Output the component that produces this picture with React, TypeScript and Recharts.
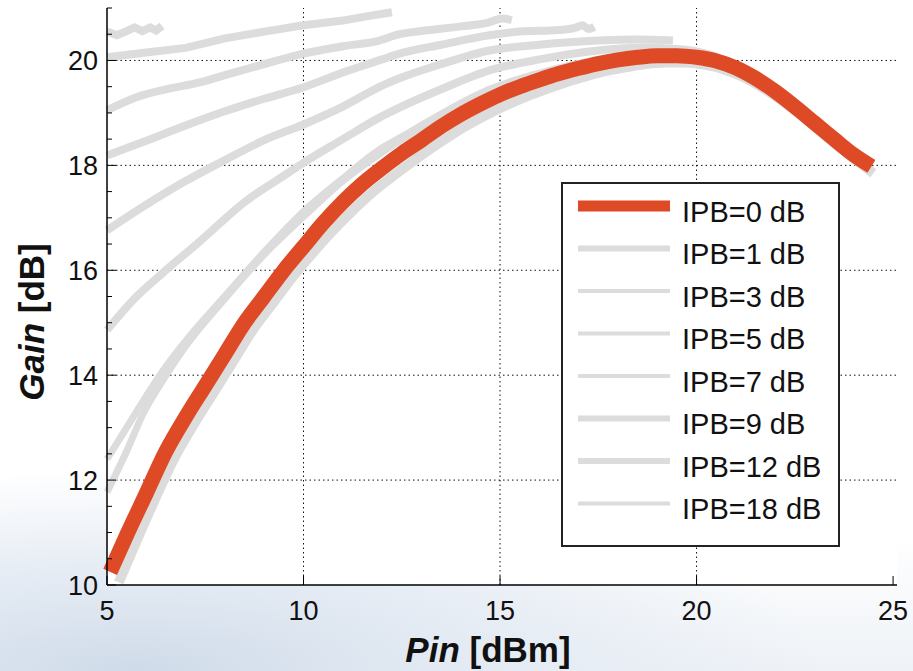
import { CartesianGrid, Legend, Line, LineChart, ReferenceLine, XAxis, YAxis } from "recharts";

// [Pin dBm, Gain dB]
const ipb0 = [
  [5.08, 10.25], [5.5, 10.95], [6, 11.75], [6.5, 12.55], [7, 13.2], [7.5, 13.8],
  [8, 14.4], [8.5, 15.0], [9, 15.5], [9.5, 16.0], [10, 16.45], [10.5, 16.9],
  [11, 17.3], [11.5, 17.65], [12, 17.95], [12.5, 18.23], [13, 18.48], [13.5, 18.74],
  [14, 18.97], [14.5, 19.17], [15, 19.35], [15.5, 19.5], [16, 19.63], [16.5, 19.75],
  [17, 19.85], [17.5, 19.94], [18, 20.01], [18.5, 20.06], [19, 20.09], [19.5, 20.09],
  [20, 20.06], [20.5, 19.99], [21, 19.86], [21.5, 19.66], [22, 19.41], [22.5, 19.12],
  [23, 18.81], [23.5, 18.5], [24, 18.2], [24.45, 17.98],
];
const ipb1 = [
  [5.3, 10.05], [5.7, 10.75], [6.2, 11.6], [6.7, 12.4], [7.2, 13.05], [7.7, 13.65],
  [8.2, 14.25], [8.7, 14.85], [9.2, 15.35], [9.7, 15.85], [10.2, 16.3], [10.7, 16.72],
  [11.2, 17.1], [11.7, 17.45], [12.2, 17.75], [12.7, 18.03], [13.2, 18.3], [13.7, 18.55],
  [14.2, 18.78], [14.7, 18.98], [15.2, 19.16], [15.7, 19.32], [16.2, 19.46], [16.7, 19.59],
  [17.2, 19.7], [17.7, 19.8], [18.2, 19.87], [18.7, 19.93], [19.2, 19.96], [19.7, 19.96],
  [20.2, 19.92], [20.7, 19.83], [21.2, 19.68], [21.7, 19.47], [22.2, 19.22], [22.7, 18.93],
  [23.2, 18.62], [23.7, 18.31], [24.2, 18.02], [24.5, 17.85],
];
const ipb3 = [
  [5, 11.77], [5.5, 12.55], [5.91, 13.25], [6.42, 13.9], [7, 14.55], [8.05, 15.5],
  [9, 16.3], [10, 17.02], [11, 17.7], [12, 18.25], [13, 18.72], [14, 19.12],
  [15, 19.45], [16, 19.7], [17, 19.9], [18, 20.04], [19, 20.12],
];
const ipb5 = [
  [5, 12.4], [5.5, 13.0], [6, 13.6], [6.42, 14.08], [7, 14.65], [8.05, 15.55],
  [9, 16.35], [10, 17.12], [11, 17.75], [11.93, 18.3], [12.44, 18.52], [13.5, 18.98],
  [14.73, 19.45], [16, 19.76], [17.5, 20.02], [18.5, 20.12], [19.2, 20.16],
];
const ipb7 = [
  [5, 14.86], [5.66, 15.43], [6.42, 15.95], [7.36, 16.55], [8.5, 17.3], [9.64, 17.87],
  [10, 18.05], [11, 18.5], [11.93, 18.91], [12.44, 19.1], [13.5, 19.45], [14.73, 19.81],
  [16, 20.02], [17.5, 20.19], [18.5, 20.24], [19.5, 20.22], [20.3, 20.12], [20.8, 19.98],
];
const ipb9 = [
  [5, 16.76], [6, 17.25], [7, 17.7], [8, 18.1], [9, 18.48], [10, 18.78],
  [11, 19.12], [12, 19.52], [12.44, 19.66], [13.5, 19.93], [14.73, 20.19], [16, 20.3],
  [17.5, 20.38], [18.5, 20.4], [19.4, 20.38],
];
const ipb12 = [
  [5, 18.19], [6, 18.47], [7, 18.76], [8, 19.03], [9, 19.27], [10, 19.49],
  [11, 19.77], [12, 20.02], [12.44, 20.13], [13.5, 20.3], [14.73, 20.48], [15.5, 20.55],
  [16.5, 20.58], [16.9, 20.62], [17.1, 20.67], [17.25, 20.6], [17.4, 20.64],
];
const ipb18 = [
  [5, 19.05], [5.75, 19.3], [6.5, 19.45], [7.36, 19.58], [8, 19.72], [9, 19.93],
  [10, 20.13], [11, 20.27], [11.93, 20.38], [12.44, 20.5], [13, 20.56], [14, 20.65],
  [14.7, 20.72], [15.05, 20.8], [15.3, 20.77],
];
// two short traces at the top that have no legend entry
const topTrace = [
  [5, 20.06], [6, 20.15], [7, 20.24], [7.5, 20.33], [8, 20.42], [9, 20.55],
  [10, 20.67], [11, 20.76], [11.6, 20.84], [12.25, 20.92],
];
const topSquiggle = [
  [5, 20.55], [5.25, 20.48], [5.5, 20.56], [5.7, 20.63], [5.9, 20.56],
  [6.1, 20.63], [6.25, 20.57], [6.4, 20.66],
];

const xTicks = [5, 10, 15, 20, 25];
const xGridTicks = [10, 15, 20];
const yTicks = [10, 12, 14, 16, 18, 20];
const yGridTicks = [12, 14, 16, 18, 20];
const yAllTicks = [
  10, 10.5, 11, 11.5, 12, 12.5, 13, 13.5, 14, 14.5, 15, 15.5,
  16, 16.5, 17, 17.5, 18, 18.5, 19, 19.5, 20, 20.5, 21,
];

const RED = "#de4a26";
const GREY = "#dcdcdc";
const FONT = '"Liberation Sans", Arial, Helvetica, sans-serif';

const series = [
  { name: "IPB=0 dB", rows: ipb0, color: RED, width: 15, sample: 11 },
  { name: "IPB=1 dB", rows: ipb1, color: GREY, width: 10, sample: 6 },
  { name: "IPB=3 dB", rows: ipb3, color: GREY, width: 7, sample: 4 },
  { name: "IPB=5 dB", rows: ipb5, color: GREY, width: 7, sample: 4 },
  { name: "IPB=7 dB", rows: ipb7, color: GREY, width: 8, sample: 4 },
  { name: "IPB=9 dB", rows: ipb9, color: GREY, width: 8, sample: 6 },
  { name: "IPB=12 dB", rows: ipb12, color: GREY, width: 8, sample: 6 },
  { name: "IPB=18 dB", rows: ipb18, color: GREY, width: 8, sample: 4 },
];
const extras = [
  { id: "top-a", rows: topTrace },
  { id: "top-b", rows: topSquiggle },
];

const toPoints = (rows: number[][]) => rows.map(([pin, gain]) => ({ pin, gain }));

function LeftTick({ x, y, payload }: any) {
  const major = yTicks.includes(payload.value);
  return (
    <g>
      <line x1={x} x2={x + (major ? 9 : 5)} y1={y} y2={y} stroke="#000" />
      {major && (
        <text x={x - 9} y={y + 9.5} textAnchor="end" fontSize={27} fontFamily={FONT} fill="#111">
          {payload.value}
        </text>
      )}
    </g>
  );
}

function RightTick({ x, y, payload }: any) {
  const major = yTicks.includes(payload.value);
  return <line x1={x} x2={x - (major ? 9 : 5)} y1={y} y2={y} stroke="#000" />;
}

function BottomTick({ x, y, payload }: any) {
  return (
    <g>
      <line x1={x} x2={x} y1={y} y2={y - 9} stroke="#000" />
      <text x={x} y={y + 35} textAnchor="middle" fontSize={27} fontFamily={FONT} fill="#111">
        {payload.value}
      </text>
    </g>
  );
}

function TopTick({ x, y }: any) {
  return <line x1={x} x2={x} y1={y} y2={y + 9} stroke="#000" />;
}

function LegendBox() {
  return (
    <svg width={279} height={365} style={{ display: "block" }}>
      <rect x={1} y={1} width={277} height={363} fill="#fff" stroke="#222" strokeWidth={2} />
      {series.map((s, i) => (
        <g key={s.name}>
          <line x1={17} x2={109} y1={24 + i * 42.5} y2={24 + i * 42.5} stroke={s.color} strokeWidth={s.sample} />
          <text x={121} y={39.5 + i * 42.5} fontSize={29} fontFamily={FONT} fill="#111">
            {s.name}
          </text>
        </g>
      ))}
    </svg>
  );
}

export default function App() {
  const drawOrder = [...series].reverse();
  const gridStyle = { stroke: "#111", strokeDasharray: "1.5 3", strokeWidth: 1 };
  return (
    <div
      style={{
        position: "absolute",
        left: 0,
        top: 0,
        width: 913,
        height: 671,
        overflow: "hidden",
        background:
          "radial-gradient(ellipse 75% 30% at 15% 100%, #cfdbe9 0%, #e3eaf3 45%, rgba(255,255,255,0) 100%), linear-gradient(180deg, #ffffff 80%, #eef2f7 100%)",
      }}
    >
      <LineChart width={913} height={671} margin={{ top: 8, right: 16, bottom: 0, left: 0 }}>
        <CartesianGrid xAxisId="b" yAxisId="l" horizontal={false} vertical={false} fill="#ffffff" />
        {yGridTicks.map((v) => (
          <ReferenceLine key={"h" + v} xAxisId="b" yAxisId="l" y={v} {...gridStyle} />
        ))}
        {xGridTicks.map((v) => (
          <ReferenceLine key={"v" + v} xAxisId="b" yAxisId="l" x={v} {...gridStyle} />
        ))}
        <XAxis
          xAxisId="b"
          type="number"
          dataKey="pin"
          domain={[5, 25.1]}
          ticks={xTicks}
          interval={0}
          height={86}
          tickSize={0}
          tickMargin={0}
          tickLine={false}
          axisLine={{ stroke: "#000", strokeWidth: 1.5 }}
          tick={BottomTick}
        />
        <XAxis
          xAxisId="t"
          orientation="top"
          type="number"
          domain={[5, 25.1]}
          ticks={xTicks}
          interval={0}
          height={0}
          tickSize={0}
          tickMargin={0}
          tickLine={false}
          axisLine={{ stroke: "#000", strokeWidth: 1.5 }}
          tick={TopTick}
        />
        <YAxis
          yAxisId="l"
          type="number"
          domain={[10, 21]}
          ticks={yAllTicks}
          interval={0}
          width={107}
          tickSize={0}
          tickMargin={0}
          tickLine={false}
          axisLine={{ stroke: "#000", strokeWidth: 1.5 }}
          tick={LeftTick}
        />
        <YAxis
          yAxisId="r"
          orientation="right"
          type="number"
          domain={[10, 21]}
          ticks={yAllTicks}
          interval={0}
          width={0}
          tickSize={0}
          tickMargin={0}
          tickLine={false}
          axisLine={{ stroke: "#000", strokeWidth: 1.5 }}
          tick={RightTick}
        />
        <Legend
          layout="vertical"
          align="center"
          verticalAlign="middle"
          content={LegendBox}
          wrapperStyle={{ left: 561, top: 182, width: 279, height: 365 }}
        />
        {extras.map((e) => (
          <Line
            key={e.id}
            xAxisId="b"
            yAxisId="l"
            data={toPoints(e.rows)}
            dataKey="gain"
            type="linear"
            stroke={GREY}
            strokeWidth={8}
            dot={false}
            legendType="none"
            isAnimationActive={false}
          />
        ))}
        {drawOrder.map((s) => (
          <Line
            key={s.name}
            name={s.name}
            xAxisId="b"
            yAxisId="l"
            data={toPoints(s.rows)}
            dataKey="gain"
            type="monotone"
            stroke={s.color}
            strokeWidth={s.width}
            strokeLinejoin="round"
            dot={false}
            isAnimationActive={false}
          />
        ))}
      </LineChart>
      <svg
        width={913}
        height={671}
        style={{ position: "absolute", left: 0, top: 0, pointerEvents: "none" }}
      >
        <text x={488} y={662} textAnchor="middle" fontSize={35} fontWeight="bold" fontFamily={FONT} fill="#111">
          <tspan fontStyle="italic">Pin</tspan> [dBm]
        </text>
        <text
          x={44}
          y={322}
          transform="rotate(-90 44 322)"
          textAnchor="middle"
          fontSize={35}
          fontWeight="bold"
          fontFamily={FONT}
          fill="#111"
        >
          <tspan fontStyle="italic">Gain</tspan> [dB]
        </text>
      </svg>
    </div>
  );
}
